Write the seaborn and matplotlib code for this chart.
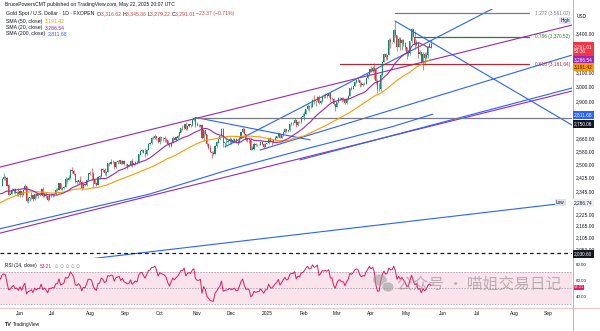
import numpy as np
import pandas as pd
import matplotlib
matplotlib.use("Agg")
import matplotlib.pyplot as plt
from matplotlib.ticker import NullLocator
from matplotlib.lines import Line2D
from matplotlib.patches import Ellipse
import seaborn as sns

# ---------------- data (daily XAUUSD) ----------------
pre_close = [2159, 2178, 2182, 2158, 2174, 2162, 2155, 2160, 2157, 2186, 2181, 2165, 2172, 2179, 2194, 2230, 2233,
             2251, 2280, 2300, 2290, 2330, 2339, 2352, 2333, 2373, 2344, 2383, 2383, 2361, 2379, 2392, 2327, 2322,
             2316, 2332, 2337, 2335, 2286,
             2320, 2303, 2301, 2323, 2314, 2309, 2346, 2360, 2336, 2358, 2386, 2376]
pre_start = "2024-03-07"
start_date = "2024-05-17"

close = [2415, 2425, 2421, 2379, 2329, 2334, 2351, 2361, 2338, 2343, 2327,
         2350, 2327, 2355, 2376, 2294, 2311, 2316, 2324, 2303, 2333, 2319, 2329, 2328, 2360, 2322, 2334, 2320, 2298, 2327, 2327,
         2332, 2330, 2356, 2356, 2392, 2358, 2364, 2371, 2415, 2411, 2422, 2469, 2459, 2445, 2401, 2396, 2409, 2397, 2364, 2387, 2384, 2410, 2447,
         2446, 2443, 2410, 2390, 2382, 2427, 2431, 2472, 2465, 2447, 2456, 2507, 2504, 2514, 2512, 2484, 2512, 2518, 2524, 2504, 2520, 2503,
         2500, 2493, 2495, 2517, 2497, 2506, 2516, 2512, 2558, 2578, 2582, 2569, 2559, 2587, 2622, 2628, 2657, 2657, 2672, 2658, 2634,
         2663, 2659, 2656, 2653, 2644, 2622, 2608, 2630, 2657, 2649, 2662, 2674, 2693, 2721, 2720, 2748, 2716, 2736, 2747, 2743, 2774, 2788, 2744,
         2736, 2736, 2743, 2659, 2706, 2685, 2619, 2598, 2572, 2565, 2562, 2612, 2631, 2650, 2670, 2716, 2626, 2633, 2636, 2640, 2650,
         2640, 2643, 2650, 2632, 2633, 2660, 2694, 2718, 2681, 2648, 2652, 2646, 2587, 2594, 2622, 2613, 2617, 2618, 2634, 2621, 2606, 2624,
         2625, 2658, 2640, 2635, 2648, 2661, 2670, 2689, 2662, 2677, 2697, 2715, 2703, 2708, 2745, 2755, 2754, 2771, 2740, 2763, 2759, 2794, 2798,
         2815, 2843, 2867, 2856, 2861, 2908, 2898, 2905, 2929, 2883, 2899, 2935, 2933, 2939, 2936, 2952, 2915, 2916, 2876, 2858,
         2893, 2918, 2920, 2910, 2910, 2889, 2916, 2934, 2989, 2984, 3001, 3034, 3048, 3044, 3023, 3011, 3020, 3019, 3057, 3085, 3124,
         3113, 3134, 3114, 3037, 2982, 2983, 3082, 3175, 3238, 3211, 3230, 3342, 3327, 3327, 3424, 3381, 3289, 3349, 3319, 3343, 3317, 3288,
         3239, 3241, 3334, 3431, 3366, 3306, 3325, 3236, 3248, 3177, 3240, 3203, 3230, 3289, 3314.38, 3291.01]

high = [2422, 2450, 2431, 2425, 2385, 2341, 2364, 2364, 2364, 2351, 2364,
        2354, 2351, 2359, 2388, 2378, 2315, 2318, 2342, 2327, 2337, 2335, 2335, 2335, 2365, 2368, 2336, 2336, 2325, 2332, 2339,
        2339, 2335, 2365, 2363, 2393, 2393, 2368, 2378, 2425, 2424, 2440, 2470, 2483, 2469, 2445, 2412, 2412, 2431, 2402, 2389, 2393, 2413, 2451,
        2464, 2477, 2458, 2414, 2400, 2430, 2440, 2477, 2476, 2479, 2464, 2509, 2511, 2531, 2525, 2513, 2519, 2528, 2527, 2527, 2525, 2524,
        2504, 2503, 2504, 2524, 2529, 2507, 2518, 2528, 2561, 2585, 2589, 2585, 2600, 2593, 2625, 2634, 2664, 2670, 2685, 2674, 2666,
        2673, 2668, 2668, 2670, 2660, 2648, 2625, 2632, 2670, 2665, 2664, 2677, 2697, 2722, 2740, 2749, 2758, 2741, 2750, 2748, 2776, 2790, 2790,
        2761, 2745, 2750, 2745, 2711, 2710, 2685, 2627, 2618, 2581, 2578, 2614, 2639, 2660, 2674, 2721, 2721, 2637, 2656, 2652, 2665,
        2658, 2657, 2658, 2656, 2645, 2669, 2697, 2726, 2722, 2686, 2659, 2654, 2657, 2611, 2632, 2627, 2621, 2620, 2639, 2638, 2625, 2628,
        2628, 2661, 2665, 2649, 2655, 2670, 2673, 2697, 2693, 2679, 2701, 2725, 2716, 2712, 2746, 2763, 2759, 2786, 2773, 2765, 2770, 2800, 2817,
        2830, 2845, 2882, 2870, 2886, 2911, 2942, 2908, 2936, 2942, 2907, 2938, 2947, 2955, 2954, 2956, 2955, 2927, 2923, 2880,
        2896, 2928, 2930, 2926, 2930, 2914, 2921, 2940, 2990, 3004, 3004, 3038, 3048, 3057, 3047, 3033, 3027, 3032, 3059, 3087, 3128,
        3149, 3149, 3167, 3136, 3055, 3023, 3099, 3176, 3245, 3245, 3232, 3358, 3357, 3330, 3430, 3500, 3386, 3367, 3370, 3351, 3350, 3328,
        3290, 3269, 3336, 3437, 3435, 3414, 3348, 3330, 3265, 3251, 3253, 3253, 3250, 3295, 3325, 3345.36]

low = [2376, 2412, 2410, 2374, 2325, 2326, 2333, 2340, 2334, 2323, 2320,
       2314, 2315, 2326, 2355, 2287, 2286, 2296, 2306, 2295, 2302, 2313, 2310, 2322, 2327, 2316, 2316, 2309, 2293, 2298, 2318,
       2318, 2319, 2327, 2351, 2353, 2353, 2353, 2361, 2371, 2393, 2410, 2418, 2452, 2438, 2392, 2385, 2385, 2395, 2353, 2364, 2376, 2379, 2410,
       2437, 2410, 2364, 2386, 2375, 2380, 2415, 2428, 2457, 2441, 2431, 2456, 2489, 2500, 2506, 2471, 2478, 2504, 2507, 2500, 2502, 2498,
       2488, 2472, 2489, 2491, 2486, 2494, 2497, 2499, 2510, 2556, 2573, 2565, 2546, 2555, 2585, 2614, 2621, 2652, 2655, 2645, 2628,
       2624, 2643, 2640, 2637, 2637, 2615, 2604, 2604, 2627, 2645, 2641, 2654, 2667, 2694, 2712, 2715, 2709, 2708, 2728, 2729, 2736, 2770, 2730,
       2732, 2730, 2726, 2653, 2643, 2678, 2610, 2589, 2571, 2537, 2557, 2563, 2604, 2625, 2644, 2668, 2605, 2605, 2617, 2625, 2621,
       2622, 2630, 2636, 2626, 2614, 2630, 2659, 2689, 2677, 2642, 2637, 2628, 2584, 2583, 2586, 2607, 2610, 2613, 2615, 2616, 2596, 2603,
       2621, 2623, 2635, 2614, 2625, 2645, 2657, 2667, 2656, 2660, 2669, 2691, 2697, 2695, 2703, 2739, 2739, 2751, 2730, 2737, 2752, 2755, 2790,
       2772, 2814, 2840, 2834, 2854, 2860, 2880, 2864, 2902, 2877, 2880, 2893, 2920, 2923, 2918, 2930, 2890, 2904, 2873, 2832,
       2857, 2888, 2906, 2894, 2898, 2880, 2880, 2906, 2932, 2978, 2982, 3001, 3026, 3030, 2999, 3002, 3005, 3012, 3016, 3055, 3076,
       3100, 3105, 3055, 3015, 2957, 2970, 2970, 3072, 3174, 3194, 3193, 3229, 3284, 3320, 3325, 3366, 3260, 3287, 3266, 3269, 3300, 3268,
       3202, 3222, 3229, 3324, 3365, 3274, 3296, 3207, 3229, 3172, 3121, 3153, 3200, 3204, 3287, 3279.22]

last_open = 3316.62

# values printed by the chart's indicators
sma50_last = 3191.42
sma20_last = 3286.54
sma200_last = 2811.68
rsi_last = 53.21

# 200-day SMA (bar index from 2024-05-17, value)
sma200_bar = [-1.3, 40, 90, 140, 190, 240, 265]
sma200_val = [2150, 2230, 2330, 2470, 2600, 2730, 2811.68]

# drawings: (bar0, price0, bar1, price1)
purple_lines = [(-1.31, 2484, 350.7, 3464), (-1.31, 2128, 350.7, 2968)]
blue_lines = [(119, 2790, 189.5, 2647), (47.9, 1998, 346.4, 2283), (137.2, 2605, 302.7, 3605),
              (241.8, 3497, 350.7, 2741), (158.7, 2585, 350.7, 3229), (183.3, 2526, 350.7, 2989)]
gray_level = (119, 2785)
fib_levels = [(1.272, 3561.02, 241.8), (0.786, 3370.52, 254.1), (0.618, 3161.64, 207.9)]
support_level = 2030.60
trend_tag = 2750.06
low_mark = 2286.74
high_mark = 3500.0

month_labels = ["Jun", "Jul", "Aug", "Sep", "Oct", "Nov", "Dec", "2025", "Feb", "Mar", "Apr", "May",
                "Jun", "Jul", "Aug", "Sep"]
price_ticks = [3400, 3100, 3000, 2900, 2660, 2580, 2500, 2425, 2345, 2225, 2165, 2105, 2050]
rsi_ticks = [80, 60, 40]

# ---------------- derived ----------------
sns.set_theme(style="white")
plt.rcParams["font.family"] = ["Liberation Sans", "DejaVu Sans"]

closes_all = np.array(pre_close + close, float)
n_pre = len(pre_close)
xs_all = np.arange(len(closes_all)) - n_pre
s = pd.Series(closes_all)
sma20 = s.rolling(20).mean()
sma50 = s.rolling(50).mean()
d = s.diff()
ag = d.clip(lower=0).ewm(alpha=1 / 14, adjust=False).mean()
al = (-d.clip(upper=0)).ewm(alpha=1 / 14, adjust=False).mean()
rsi = 100 - 100 / (1 + ag / al)

c = np.array(close, float)
o = closes_all[n_pre - 1:-1].copy()
o[-1] = last_open
h = np.array(high, float)
l = np.array(low, float)
x = np.arange(len(c))

W, H = 600, 331
fig = plt.figure(figsize=(W / 100, H / 100), dpi=100)
fig.patch.set_facecolor("white")
ax = fig.add_axes([0, 1 - 258 / H, 572 / W, 249 / H])
rax = fig.add_axes([0, 1 - 309 / H, 572 / W, 49 / H])
XL = (-1.31, 350.7)

UP, DN = "#13896b", "#d0393f"
cols = np.where(c >= o, UP, DN)
ax.vlines(x, l, h, colors=cols, lw=0.45, zorder=3)
ax.bar(x, np.abs(c - o) + 0.5, bottom=np.minimum(o, c), width=0.62, color=cols, lw=0, zorder=3)

vis = xs_all >= -2
sns.lineplot(x=xs_all[vis], y=sma50[vis], ax=ax, color="#FF9800", lw=0.8, zorder=4)
sns.lineplot(x=xs_all[vis], y=sma20[vis], ax=ax, color="#9C27B0", lw=0.8, zorder=4)
sns.lineplot(x=sma200_bar, y=sma200_val, ax=ax, color="#2962FF", lw=0.8, zorder=4)

for (a0, p0, a1, p1) in purple_lines:
    ax.plot([a0, a1], [p0, p1], color="#9C27B0", lw=0.8, zorder=2)
for (a0, p0, a1, p1) in blue_lines:
    ax.plot([a0, a1], [p0, p1], color="#2962FF", lw=0.8, zorder=2)
ax.plot([gray_level[0], XL[1]], [gray_level[1]] * 2, color="#787b86", lw=0.9, zorder=2)
fib_cols = {1.272: "#787b86", 0.786: "#2e7d32", 0.618: "#b22833"}
for lv, pr, b0 in fib_levels:
    ax.plot([b0, 324.5], [pr, pr], color=fib_cols[lv], lw=0.9, zorder=2)
    ax.text(349.5, pr, f"{lv} ({pr:,.2f})", color=fib_cols[lv], fontsize=3.4, ha="right", va="center", zorder=6)
ax.axhline(support_level, color="#131722", lw=0.9, ls=(0, (3, 2.5)), zorder=2)

ax.set_yscale("log")
ax.set_xlim(*XL)
ax.set_ylim(2007.6, 3596.6)
ax.yaxis.tick_right()
ax.yaxis.set_minor_locator(NullLocator())
ax.set_yticks(price_ticks)
ax.set_yticklabels([f"{v:,.2f}" for v in price_ticks])
ax.tick_params(axis="y", length=0, pad=2.5, labelsize=3.5, labelcolor="#131722")
ax.set_xticks([])
ax.set_xlabel("")
ax.set_ylabel("")
for sp in ax.spines.values():
    sp.set_visible(False)

ax.text(349.5, high_mark, "High", fontsize=3.3, ha="right", va="center", color="#131722",
        bbox=dict(boxstyle="square,pad=0.25", fc="#e0e3eb", ec="none"), zorder=7)
ax.text(346.0, low_mark, "Low", fontsize=3.3, ha="right", va="center", color="#131722",
        bbox=dict(boxstyle="square,pad=0.25", fc="#e0e3eb", ec="none"), zorder=7)

# ---------------- RSI ----------------
rax.axhspan(30, 70, color="#fbe3ec", lw=0, zorder=0)
for lvl in (70, 50, 30):
    rax.axhline(lvl, color="#8a8e99", lw=0.5, ls=(0, (2, 2)), zorder=1)
sns.lineplot(x=xs_all[vis], y=rsi[vis], ax=rax, color="#d81b60", lw=0.7, zorder=3)
rax.set_xlim(*XL)
rax.set_ylim(23.75, 85)
rax.yaxis.tick_right()
rax.set_yticks(rsi_ticks)
rax.set_yticklabels([f"{v:.2f}" for v in rsi_ticks])
rax.tick_params(axis="y", length=0, pad=2.5, labelsize=3.2, labelcolor="#131722")
rax.set_xlabel("")
rax.set_ylabel("")
for sp in rax.spines.values():
    sp.set_visible(False)

cal = pd.bdate_range(start_date, "2025-10-31")
mpos = []
seen = set()
for k, dt in enumerate(cal):
    key = (dt.year, dt.month)
    if key not in seen:
        seen.add(key)
        if k > 0:
            mpos.append(k)
mpos = mpos[:len(month_labels)]
rax.set_xticks(mpos)
rax.set_xticklabels(month_labels)
rax.tick_params(axis="x", length=0, pad=1.5, labelsize=3.5, labelcolor="#131722")

# ---------------- text & tags ----------------
def fy(py):
    return 1 - py / H

def rich(px, py, parts, size=3.7):
    r = fig.canvas.get_renderer()
    cx = px
    for txt, col in parts:
        t = fig.text(cx / W, fy(py), txt, color=col, fontsize=size, va="center", ha="left")
        cx += t.get_window_extent(renderer=r).width

ink = "#131722"
red = "#e0403a"
fig.text(5 / W, fy(4.5), "BrucePowersCMT published on TradingView.com, May 22, 2025 20:07 UTC",
         fontsize=3.6, color=ink, va="center")
chg = c[-1] - c[-2]
rich(6, 14, [("Gold Spot / U.S. Dollar · 1D · FXOPEN  ", ink), ("O", ink), (f"{o[-1]:,.2f} ", red),
             ("H", ink), (f"{h[-1]:,.2f} ", red), ("L", ink), (f"{l[-1]:,.2f} ", red),
             ("C", ink), (f"{c[-1]:,.2f} ", red), (f"{chg:+.2f} ({chg / c[-2] * 100:+.2f}%)".replace("-", "−"), red)])
rich(6, 21, [("SMA (50, close)  ", ink), (f"{sma50_last:,.2f}", "#FF9800")])
rich(6, 27.5, [("SMA (20, close)  ", ink), (f"{sma20_last:,.2f}", "#9C27B0")])
rich(6, 34, [("SMA (200, close)  ", ink), (f"{sma200_last:,.2f}", "#2962FF")])
rich(5, 266, [("RSI (14, close)  ", ink), (f"{rsi_last:.2f}", "#d81b60"), ("  ⊙ ⊙ ⊙ ⊙ ⊙", "#9598a1")], size=3.4)

def tag(py, txt, fc, tc="white", size=3.4, pad=0.3):
    fig.text(574 / W, fy(py), txt, fontsize=size, color=tc, va="center", ha="left", linespacing=1.1,
             bbox=dict(boxstyle=f"square,pad={pad}", fc=fc, ec="none"))

fig.text(577 / W, fy(16), "USD", fontsize=3.4, color=ink, va="center")
tag(49, f"{c[-1]:,.2f}\n53:36", "#f23645")
tag(59.5, f"{sma20_last:,.2f}", "#9C27B0")
tag(67, f"{sma50_last:,.2f}", "#FF9800", tc=ink)
tag(115, f"{sma200_last:,.2f}", "#2962FF")
tag(124, f"{trend_tag:,.2f}", "#131722")
tag(203, f"{low_mark:,.2f}", "#eef0f5", tc=ink)
tag(254, f"{support_level:,.2f}", "#131722")
tag(287.5, f"{rsi_last:.2f}", "#e91e63", size=3.0, pad=0.06)

fig.add_artist(Line2D([572.5 / W] * 2, [fy(331), fy(0)], color="#f28b82", lw=0.6))
fig.add_artist(Line2D([0, 1], [fy(307.5)] * 2, color="#f4b6b6", lw=0.6))

fig.text(5 / W, fy(324.5), "TV", fontsize=3.8, color=ink, fontweight="bold", va="center")
fig.text(13 / W, fy(324.5), "TradingView", fontsize=3.5, color=ink, va="center")

# watermark (kept clear of the price-axis labels)
fig.add_artist(Ellipse((380 / W, fy(280)), 14 / W, 11 / H, fc="#9a9a9a", ec="none", alpha=0.55))
fig.add_artist(Ellipse((388 / W, fy(287)), 12 / W, 10 / H, fc="#9a9a9a", ec="white", lw=0.6, alpha=0.6))
fig.text(397 / W, fy(284), "公众号 · 喵姐交易日记", fontsize=11.3, color="#8c8c8c", alpha=0.6,
         family=["Noto Sans CJK SC"], va="center", ha="left")

fig.savefig("out.png", dpi=100, facecolor="white")
